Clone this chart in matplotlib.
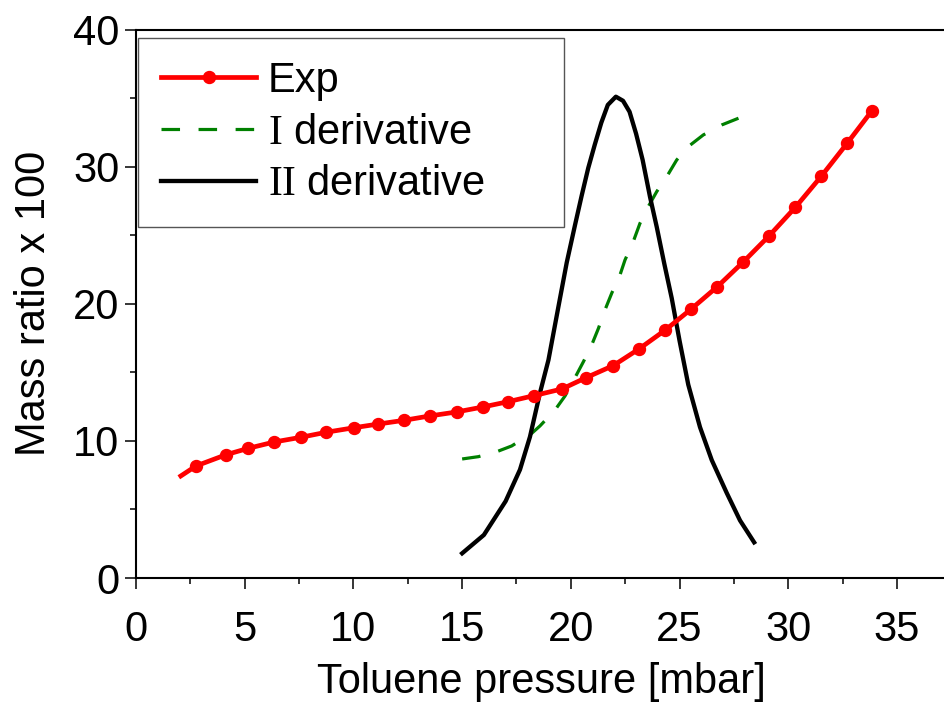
import numpy as np
import matplotlib
matplotlib.use('Agg')
import matplotlib.pyplot as plt
from matplotlib.ticker import MultipleLocator

plt.rcParams['font.family'] = ['Liberation Sans', 'DejaVu Sans']
plt.rcParams['mathtext.fontset'] = 'custom'
plt.rcParams['mathtext.rm'] = 'Liberation Serif'

# Experimental isotherm (first point drawn without marker)
exp_x = [2.06, 2.76, 4.14, 5.17, 6.36, 7.58, 8.75, 10.03, 11.15, 12.33, 13.52, 14.75,
         15.95, 17.12, 18.31, 19.6, 20.70, 21.95, 23.15, 24.35, 25.54, 26.74, 27.93,
         29.13, 30.33, 31.52, 32.72, 33.85]
exp_y = [7.44, 8.17, 8.99, 9.46, 9.92, 10.26, 10.63, 10.96, 11.23, 11.50, 11.82, 12.11,
         12.47, 12.86, 13.30, 13.79, 14.61, 15.49, 16.72, 18.09, 19.62, 21.25, 23.05,
         24.97, 27.04, 29.30, 31.73, 34.08]

# First derivative (scaled)
d1_x = [15.0, 15.75, 16.59, 17.28, 18.2, 18.58, 19.27, 19.73, 20.19, 20.58, 20.96, 21.27,
        21.57, 21.88, 22.26, 22.49, 22.87, 23.18, 23.56, 23.95, 24.41, 24.87, 25.40,
        26.09, 26.94, 27.71]
d1_y = [8.68, 8.85, 9.21, 9.63, 10.55, 11.09, 12.25, 13.27, 14.61, 15.78, 17.0, 18.21,
        19.55, 20.77, 22.1, 23.19, 24.53, 25.87, 27.08, 28.18, 29.27, 30.49, 31.46,
        32.31, 33.04, 33.53]

# Second derivative (scaled)
d2_x = [15.0, 16.0, 17.0, 17.66, 18.12, 18.58, 18.97, 19.43, 19.81, 20.2, 20.5, 20.8,
        21.1, 21.4, 21.7, 22.07, 22.4, 22.7, 23.0, 23.3, 23.64, 23.95, 24.3, 24.64,
        25.0, 25.4, 25.94, 26.48, 27.17, 27.78, 28.43]
d2_y = [1.8, 3.14, 5.6, 7.9, 10.3, 13.5, 15.9, 19.8, 23.0, 25.8, 27.9, 29.9,
        31.6, 33.2, 34.5, 35.1, 34.8, 34.0, 32.4, 30.5, 27.8, 25.6, 22.9, 20.4,
        17.3, 14.1, 11.0, 8.6, 6.2, 4.2, 2.6]

fig = plt.figure(figsize=(9.44, 7.09), dpi=100)
ax = fig.add_axes([136 / 944, 1 - 578 / 709, 811 / 944, 548.5 / 709])

ax.plot(exp_x, exp_y, color='#ff0000', lw=3.4, marker='o', ms=8.6,
        markevery=slice(1, None), label='Exp', zorder=3)
ax.plot(d1_x, d1_y, color='#008000', lw=2.3, ls=(0, (5.8, 5.8)),
        label=r'$\mathrm{I}$ derivative', zorder=2)
ax.plot(d2_x, d2_y, color='black', lw=3.1, label=r'$\mathrm{II}$ derivative', zorder=2)

ax.set_xlim(0, 37.3)
ax.set_ylim(0, 40)
ax.xaxis.set_major_locator(MultipleLocator(5))
ax.xaxis.set_minor_locator(MultipleLocator(2.5))
ax.yaxis.set_major_locator(MultipleLocator(10))
ax.yaxis.set_minor_locator(MultipleLocator(5))

ax.tick_params(which='both', direction='out', width=1.1, labelsize=30)
ax.tick_params(which='major', length=8)
ax.tick_params(which='minor', length=4)
ax.tick_params(axis='x', pad=15)
ax.tick_params(axis='y', pad=4)
for s in ax.spines.values():
    s.set_linewidth(1.5)

ax.set_xlabel('Toluene pressure [mbar]', fontsize=30, labelpad=9)
ax.set_ylabel('Mass ratio x 100', fontsize=30, labelpad=14)

leg = ax.legend(loc='upper left', bbox_to_anchor=(0.0025, 0, 0.5252, 0.9845),
                mode='expand', borderaxespad=0, fontsize=30, frameon=True,
                fancybox=False, framealpha=1, edgecolor='#555555',
                handlelength=2.29, handletextpad=0.28, borderpad=0.55,
                labelspacing=0.28, numpoints=1)
leg.get_frame().set_linewidth(1.0)

fig.savefig('out.png', dpi=100)
